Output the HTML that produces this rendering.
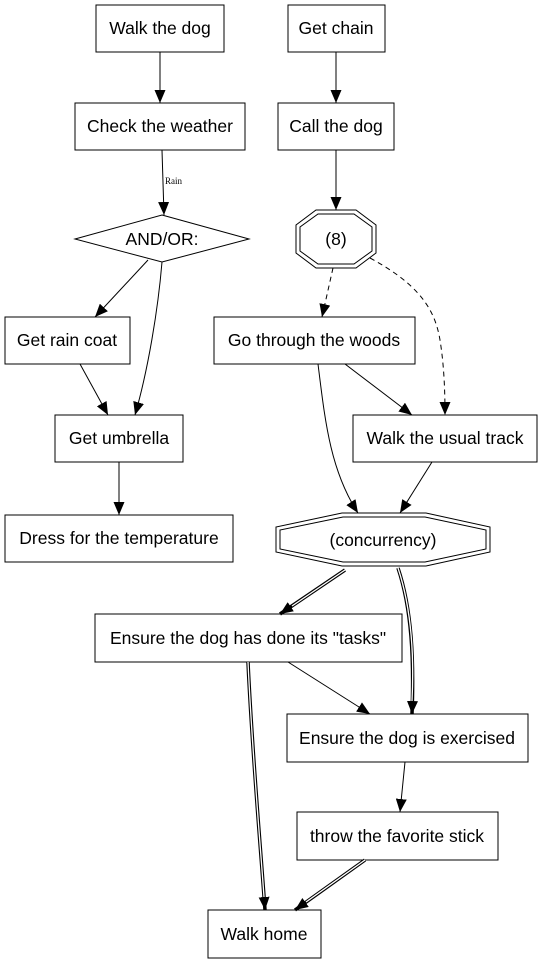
<!DOCTYPE html>
<html><head><meta charset="utf-8"><style>
html,body{margin:0;padding:0;background:#fff}
svg{display:block}
text{font-family:"Liberation Sans",Arial,sans-serif;font-size:17.5px;fill:#000}
</style></head><body>
<svg width="542" height="965" viewBox="0 0 542 965" xmlns="http://www.w3.org/2000/svg">
<defs>
<marker id="a" markerUnits="userSpaceOnUse" markerWidth="14" markerHeight="11" refX="13" refY="5.5" orient="auto">
<path d="M0,0 L13,5.5 L0,11 Z" fill="#000"/>
</marker>
</defs>
<g fill="#fff" stroke="#000" stroke-width="1">
<rect x="96" y="5" width="128" height="47"/>
<rect x="288" y="5" width="97" height="47"/>
<rect x="75" y="103" width="170" height="47"/>
<rect x="278" y="103" width="116" height="47"/>
<polygon points="162,215 249,239 162,262 75,239"/>
<polygon points="316,210 356,210 376,225 376,253 356,268 316,268 296,253 296,225"/>
<polygon points="318,214 354,214 372,227 372,251 354,264 318,264 300,251 300,227"/>
<rect x="5" y="317" width="125" height="47"/>
<rect x="214" y="317" width="201" height="47"/>
<rect x="55" y="415" width="128" height="47"/>
<rect x="353" y="415" width="184" height="47"/>
<rect x="5" y="515" width="228" height="47"/>
<polygon points="342,513 426,513 490,527 490,552 426,566 342,566 276,552 276,527"/>
<polygon points="343,517 425,517 486,530 486,549 425,562 343,562 280,549 280,530"/>
<rect x="95" y="614" width="307" height="48"/>
<rect x="287" y="714" width="241" height="48"/>
<rect x="297" y="812" width="201" height="48"/>
<rect x="208" y="910" width="113" height="48"/>
</g>
<g fill="none" stroke="#000" stroke-width="1">
<path d="M160,52 L160,103" marker-end="url(#a)"/>
<path d="M336,52 L336,103" marker-end="url(#a)"/>
<path d="M162,150 L164,215" marker-end="url(#a)"/>
<path d="M336,150 L336,210" marker-end="url(#a)"/>
<path d="M148,260 L95,317" marker-end="url(#a)"/>
<path d="M162,262 C158,310 148,370 135,415" marker-end="url(#a)"/>
<path d="M80,364 L108,415" marker-end="url(#a)"/>
<path d="M333,268 L322,317" stroke-dasharray="5,4" marker-end="url(#a)"/>
<path d="M370,258 C420,285 435,310 440,340 C444,365 445,390 445,415" stroke-dasharray="5,4" marker-end="url(#a)"/>
<path d="M345,364 L412,415" marker-end="url(#a)"/>
<path d="M318,364 C325,420 330,470 358,513" marker-end="url(#a)"/>
<path d="M432,462 L400,513" marker-end="url(#a)"/>
<path d="M119,462 L119,515" marker-end="url(#a)"/>
<path d="M288,662 L370,714" marker-end="url(#a)"/>
<path d="M405,762 L400,812" marker-end="url(#a)"/>
</g>
<g fill="none" stroke="#000" stroke-width="3.5">
<path d="M345,570 L280,614" marker-end="url(#a)"/>
<path d="M398,568 C412,610 414,660 412,714" marker-end="url(#a)"/>
<path d="M248,662 C252,750 260,840 265,910" marker-end="url(#a)"/>
<path d="M365,860 L295,910" marker-end="url(#a)"/>
</g>
<g fill="none" stroke="#fff" stroke-width="1.3">
<path d="M345,570 L292,606"/>
<path d="M398,568 C412,610 414,660 412,701"/>
<path d="M248,662 C252,750 260,840 264,897"/>
<path d="M365,860 L306,902"/>
</g>
<g text-anchor="middle">
<text x="160" y="34">Walk the dog</text>
<text x="336" y="34">Get chain</text>
<text x="160" y="132">Check the weather</text>
<text x="336" y="132">Call the dog</text>
<text x="162" y="245">AND/OR:</text>
<text x="336" y="245">(8)</text>
<text x="67" y="346">Get rain coat</text>
<text x="314" y="346">Go through the woods</text>
<text x="119" y="444">Get umbrella</text>
<text x="445" y="444">Walk the usual track</text>
<text x="119" y="544">Dress for the temperature</text>
<text x="383" y="546">(concurrency)</text>
<text x="248" y="644">Ensure the dog has done its "tasks"</text>
<text x="407" y="744">Ensure the dog is exercised</text>
<text x="397" y="842">throw the favorite stick</text>
<text x="264" y="940">Walk home</text>
</g>
<text x="165" y="184" style="font-family:'Liberation Serif',serif;font-size:9px">Rain</text>
</svg>
</body></html>
